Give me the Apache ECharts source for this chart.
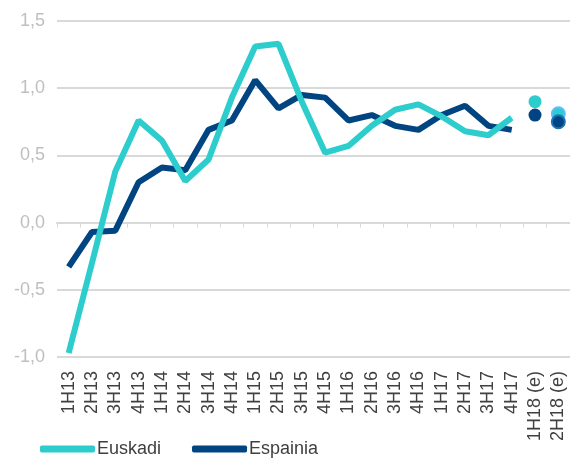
<!DOCTYPE html>
<html>
<head>
<meta charset="utf-8">
<script src="https://cdn.jsdelivr.net/npm/echarts@6/dist/echarts.min.js"></script>
<style>html,body{margin:0;padding:0;background:#fff;}#c{width:570px;height:459px;}</style>
</head>
<body>
<div id="c"></div>
<script>
const categories = ['1H13','2H13','3H13','4H13','1H14','2H14','3H14','4H14','1H15','2H15','3H15','4H15','1H16','2H16','3H16','4H16','1H17','2H17','3H17','4H17','1H18 (e)','2H18 (e)'];
const euskadi = [-0.97,-0.30,0.38,0.76,0.61,0.31,0.47,0.93,1.31,1.33,0.90,0.52,0.57,0.72,0.84,0.88,0.79,0.68,0.65,0.78,null,null];
const espainia = [-0.33,-0.07,-0.06,0.30,0.41,0.39,0.69,0.76,1.06,0.85,0.95,0.93,0.76,0.80,0.72,0.69,0.80,0.87,0.72,0.69,null,null];
const euskadiForecast = [null,null,null,null,null,null,null,null,null,null,null,null,null,null,null,null,null,null,null,null,0.90,0.81];
const espainiaForecast = [null,null,null,null,null,null,null,null,null,null,null,null,null,null,null,null,null,null,null,null,0.80,0.75];
const yTicks = {min: -1, max: 1.5, interval: 0.5};

const C_EUS = '#2dcccd', C_ESP = '#004481';
const chart = echarts.init(document.getElementById('c'), null, {renderer: 'canvas'});
function fc(arr, color, border) {
  return arr.map((v, i) => {
    if (v === null) return null;
    if (i === arr.length - 1) return {value: v, itemStyle: {color: color, borderColor: border, borderWidth: 2}};
    return v;
  });
}
chart.setOption({
  animation: false,
  textStyle: {fontFamily: 'Liberation Sans, Arial, sans-serif'},
  grid: {left: 57, right: 0, top: 21, bottom: 102, containLabel: false},
  legend: {
    left: 40, top: 440, padding: 0,
    itemWidth: 55, itemHeight: 7, itemGap: 31, icon: 'roundRect',
    textStyle: {color: '#404040', fontSize: 18, padding: [0, 0, 0, -3]},
    data: ['Euskadi', 'Espainia']
  },
  xAxis: [{
    type: 'category', data: categories, position: 'bottom', boundaryGap: true,
    axisLine: {show: false, onZero: false}, axisTick: {show: false},
    axisLabel: {rotate: 90, color: '#404040', fontSize: 18, margin: 14, interval: 0},
    splitLine: {show: false}
  }, {
    type: 'category', data: categories, position: 'bottom', boundaryGap: true,
    axisLine: {show: true, onZero: true, lineStyle: {color: '#d9d9d9', width: 2}},
    axisTick: {show: true, length: 5, interval: 0, alignWithLabel: false, lineStyle: {color: '#d9d9d9', width: 1}},
    axisLabel: {show: false}, splitLine: {show: false}
  }],
  yAxis: {
    type: 'value', min: yTicks.min, max: yTicks.max, interval: yTicks.interval,
    axisLine: {show: false}, axisTick: {show: false},
    axisLabel: {color: '#bfbfbf', fontSize: 18, margin: 12, formatter: v => v.toFixed(1).replace('.', ',')},
    splitLine: {lineStyle: {color: '#d9d9d9', width: 2}}
  },
  series: [
    {name: 'Espainia', type: 'line', data: espainia, symbol: 'none', color: C_ESP, lineStyle: {width: 6, color: C_ESP}, z: 2},
    {name: 'Euskadi', type: 'line', data: euskadi, symbol: 'none', color: C_EUS, lineStyle: {width: 6, color: C_EUS}, z: 3},
    {name: 'Euskadi (e)', type: 'scatter', data: fc(euskadiForecast, C_EUS, '#5bbeff'), symbolSize: 13, itemStyle: {color: C_EUS, opacity: 1}, z: 4},
    {name: 'Espainia (e)', type: 'scatter', data: fc(espainiaForecast, C_ESP, '#1973b8'), symbolSize: 13, itemStyle: {color: C_ESP, opacity: 1}, z: 5}
  ]
});
</script>
</body>
</html>
